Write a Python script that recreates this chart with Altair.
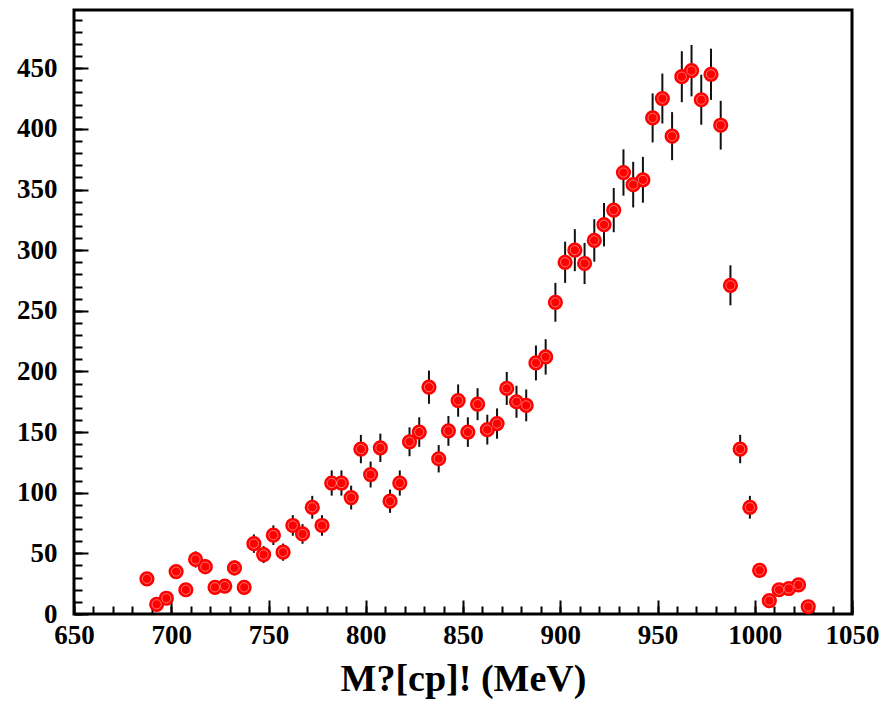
import altair as alt
import pandas as pd

# Bin centres (MeV)
mass = [687.5, 692.5, 697.5, 702.5, 707.5, 712.5, 717.5, 722.5, 727.5, 732.5,
        737.5, 742.5, 747.5, 752.5, 757.5, 762.5, 767.5, 772.5, 777.5, 782.5,
        787.5, 792.5, 797.5, 802.5, 807.5, 812.5, 817.5, 822.5, 827.5, 832.5,
        837.5, 842.5, 847.5, 852.5, 857.5, 862.5, 867.5, 872.5, 877.5, 882.5,
        887.5, 892.5, 897.5, 902.5, 907.5, 912.5, 917.5, 922.5, 927.5, 932.5,
        937.5, 942.5, 947.5, 952.5, 957.5, 962.5, 967.5, 972.5, 977.5, 982.5,
        987.5, 992.5, 997.5, 1002.5, 1007.5, 1012.5, 1017.5, 1022.5, 1027.5]

# Counts per bin
counts = [29, 8, 13, 35, 20, 45, 39, 22, 23, 38,
          22, 58, 49, 65, 51, 73, 66, 88, 73, 108,
          108, 96, 136, 115, 137, 93, 108, 142, 150, 187,
          128, 151, 176, 150, 173, 152, 157, 186, 175, 172,
          207, 212, 257, 290, 300, 289, 308, 321, 333, 364,
          354, 358, 409, 425, 394, 443, 448, 424, 445, 403,
          271, 136, 88, 36, 11, 20, 21, 24, 6]

# Error bar half-lengths
errors = [5.4, 2.8, 3.6, 5.9, 4.5, 6.7, 6.2, 4.7, 4.8, 6.2,
          4.7, 7.6, 7.0, 8.1, 7.1, 8.5, 8.1, 9.4, 8.5, 10.4,
          10.4, 9.8, 11.7, 10.7, 11.7, 9.6, 10.4, 11.9, 12.2, 13.7,
          11.3, 12.3, 13.3, 12.2, 13.2, 12.3, 12.5, 13.6, 13.2, 13.1,
          14.4, 14.6, 16.0, 17.0, 17.3, 17.0, 17.5, 17.9, 18.2, 19.1,
          18.8, 18.9, 20.2, 20.6, 19.8, 21.0, 21.2, 20.6, 21.1, 20.1,
          16.5, 11.7, 9.4, 6.0, 3.3, 4.5, 4.6, 4.9, 2.4]

x_major = [650, 700, 750, 800, 850, 900, 950, 1000, 1050]
x_minor = list(range(650, 1051, 10))
y_major = [0, 50, 100, 150, 200, 250, 300, 350, 400, 450]
y_minor = list(range(0, 491, 10))

df = pd.DataFrame({
    "m": mass,
    "n": counts,
    "lo": [c - e for c, e in zip(counts, errors)],
    "hi": [c + e for c, e in zip(counts, errors)],
})

FONT = "Liberation Serif"
xs = alt.Scale(domain=[650, 1050], nice=False, zero=False)
ys = alt.Scale(domain=[0, 498], nice=False, zero=False)

major_x = alt.Axis(values=x_major, orient="bottom", tickSize=14, offset=-14,
                   tickWidth=2, tickColor="black", domain=False, grid=False,
                   labelFont=FONT, labelFontSize=27, labelFontWeight="bold",
                   labelColor="black", labelPadding=8, labelFlush=False,
                   labelOverlap=False, labelBound=False, format="d",
                   title="M?[cp]! (MeV)", titleFont=FONT, titleFontSize=38,
                   titleFontWeight="bold", titleColor="black", titlePadding=12)
major_y = alt.Axis(values=y_major, orient="left", tickSize=14, offset=-14,
                   tickWidth=2, tickColor="black", domain=False, grid=False,
                   labelFont=FONT, labelFontSize=27, labelFontWeight="bold",
                   labelColor="black", labelPadding=17, labelFlush=False,
                   labelOverlap=False, labelBound=False, format="d",
                   title=None)
minor_x = alt.Axis(values=x_minor, orient="bottom", tickSize=8, offset=-8,
                   tickWidth=2, tickColor="black", domain=False, grid=False,
                   labels=False, title=None)
minor_y = alt.Axis(values=y_minor, orient="left", tickSize=8, offset=-8,
                   tickWidth=2, tickColor="black", domain=False, grid=False,
                   labels=False, title=None)

base = alt.Chart(df)

err = base.mark_rule(color="#111111", strokeWidth=2).encode(
    x=alt.X("m:Q", scale=xs, axis=major_x),
    y=alt.Y("lo:Q", scale=ys, axis=major_y),
    y2="hi:Q",
)
pts = base.mark_circle(color="#ff0000", size=230, opacity=1).encode(
    x=alt.X("m:Q", scale=xs),
    y=alt.Y("n:Q", scale=ys),
)
ring = base.mark_point(shape="circle", filled=False, stroke="white",
                       strokeWidth=1, size=85, opacity=0.45).encode(
    x=alt.X("m:Q", scale=xs),
    y=alt.Y("n:Q", scale=ys),
)
main = alt.layer(err, pts, ring)

minor = base.mark_point(opacity=0).encode(
    x=alt.X("m:Q", scale=xs, axis=minor_x),
    y=alt.Y("n:Q", scale=ys, axis=minor_y),
)

chart = alt.layer(main, minor).resolve_scale(
    x="independent", y="independent"
).resolve_axis(
    x="independent", y="independent"
).properties(
    width=778, height=604,
    autosize=alt.AutoSizeParams(type="none"),
    padding={"left": 74, "top": 10, "right": 34, "bottom": 90},
    background="white",
).configure_view(
    stroke="black", strokeWidth=3
)

chart.save("out.html", embed_options={"renderer": "svg", "actions": False})
